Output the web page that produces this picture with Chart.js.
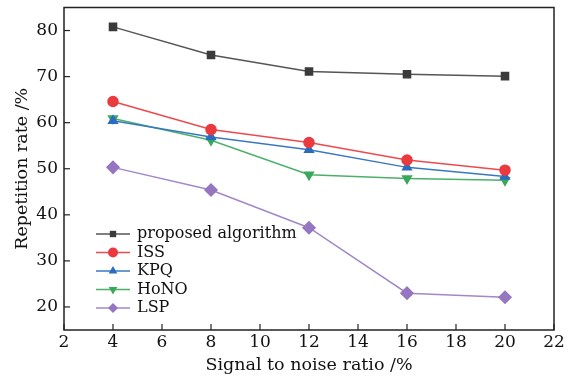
<!DOCTYPE html>
<html>
<head>
<meta charset="utf-8">
<script src="https://cdn.jsdelivr.net/npm/chart.js@4/dist/chart.umd.min.js"></script>
<style>
  html, body { margin: 0; padding: 0; background: #fff; }
  #wrap { width: 578px; height: 376px; }
</style>
</head>
<body>
<div id="wrap"><canvas id="c" width="578" height="376"></canvas></div>
<script>
const snr = [4, 8, 12, 16, 20];
const proposed = [80.8, 74.7, 71.1, 70.5, 70.1];
const iss = [64.6, 58.5, 55.7, 51.9, 49.7];
const kpq = [60.4, 56.9, 54.1, 50.3, 48.3];
const hono = [60.9, 56.2, 48.7, 47.9, 47.5];
const lsp = [50.3, 45.4, 37.2, 23.0, 22.1];
const xTicks = [2, 4, 6, 8, 10, 12, 14, 16, 18, 20, 22];
const yTicks = [20, 30, 40, 50, 60, 70, 80];

const serif = "'DejaVu Serif', 'Liberation Serif', serif";

function pts(vals) {
  return snr.map((x, i) => ({ x: x, y: vals[i] }));
}

function ds(label, vals, color, lineColor, style, rot) {
  return {
    label: label,
    data: pts(vals),
    borderColor: lineColor,
    backgroundColor: color,
    pointBackgroundColor: color,
    pointBorderColor: color,
    pointStyle: style,
    pointRotation: rot || 0,
    pointRadius: style === 'rectRot' ? 6 : 5,
    borderWidth: 1.5,
    tension: 0
  };
}

// frame, inward ticks and the legend inside the plot
const framePlugin = {
  id: 'frame',
  afterDraw(chart) {
    const ctx = chart.ctx;
    const a = chart.chartArea;
    ctx.save();
    ctx.strokeStyle = '#222';
    ctx.lineWidth = 1.5;
    ctx.strokeRect(a.left, a.top, a.right - a.left, a.bottom - a.top);
    ctx.lineWidth = 1.2;
    const xs = chart.scales.x, ys = chart.scales.y;
    xTicks.forEach(v => {
      const px = xs.getPixelForValue(v);
      ctx.beginPath(); ctx.moveTo(px, a.bottom); ctx.lineTo(px, a.bottom - 6); ctx.stroke();
    });
    yTicks.forEach(v => {
      const py = ys.getPixelForValue(v);
      ctx.beginPath(); ctx.moveTo(a.left, py); ctx.lineTo(a.left + 6, py); ctx.stroke();
    });

    // legend
    const x0 = a.left + 32, x1 = a.left + 66;
    let y = 234;
    ctx.font = '16px ' + serif;
    ctx.textBaseline = 'middle';
    chart.data.datasets.forEach(d => {
      ctx.strokeStyle = d.borderColor;
      ctx.lineWidth = 1.5;
      ctx.beginPath(); ctx.moveTo(x0, y); ctx.lineTo(x1, y); ctx.stroke();
      ctx.fillStyle = d.pointBackgroundColor;
      Chart.helpers.drawPoint(ctx, {
        pointStyle: d.pointStyle, rotation: d.pointRotation,
        radius: d.pointStyle === 'rect' ? 4.5 : 5, borderWidth: 0
      }, (x0 + x1) / 2, y);
      ctx.fillStyle = '#111';
      ctx.fillText(d.label, x1 + 7, y);
      y += 18.5;
    });
    ctx.restore();
  }
};

new Chart(document.getElementById('c'), {
  type: 'line',
  data: {
    datasets: [
      ds('proposed algorithm', proposed, '#3b3b3b', '#555555', 'rect'),
      ds('ISS', iss, '#ea3a40', '#ec4a4f', 'circle'),
      ds('KPQ', kpq, '#2b6cc0', '#3a78c4', 'triangle'),
      ds('HoNO', hono, '#3aa85a', '#4cb06a', 'triangle', 180),
      ds('LSP', lsp, '#9676c0', '#a288c8', 'rectRot')
    ]
  },
  options: {
    responsive: false,
    animation: false,
    layout: { padding: { top: 6, right: 24, left: 0, bottom: 0 } },
    plugins: { legend: { display: false }, tooltip: { enabled: false } },
    scales: {
      x: {
        type: 'linear',
        min: 2, max: 22,
        afterBuildTicks: s => { s.ticks = xTicks.map(v => ({ value: v })); },
        afterFit: s => { s.height = 46; s.paddingLeft = 0; s.paddingRight = 0; },
        grid: { display: false, drawTicks: false },
        border: { display: false },
        ticks: { color: '#111', font: { family: serif, size: 17 }, padding: 2, maxRotation: 0 },
        title: { display: true, text: 'Signal to noise ratio /%', color: '#111',
                 font: { family: serif, size: 17.5 }, padding: { top: -2, bottom: 0 } }
      },
      y: {
        min: 15, max: 85,
        afterBuildTicks: s => { s.ticks = yTicks.map(v => ({ value: v })); },
        afterFit: s => { s.width = 64; s.paddingTop = 0; s.paddingBottom = 0; },
        grid: { display: false, drawTicks: false },
        border: { display: false },
        ticks: { color: '#111', font: { family: serif, size: 17 }, padding: 6 },
        title: { display: true, text: 'Repetition rate /%', color: '#111',
                 font: { family: serif, size: 17.5 }, padding: { top: 12, bottom: 0 } }
      }
    }
  },
  plugins: [framePlugin]
});
</script>
</body>
</html>
